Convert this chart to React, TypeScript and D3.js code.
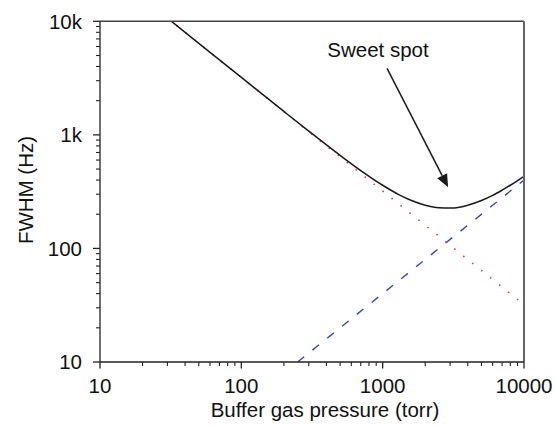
import React from "react";
import * as d3 from "d3";

// ---- data ----
const xDomain = [10, 10000];
const yDomain = [10, 10000];
const xTickValues = [10, 100, 1000, 10000];
const xTickLabels = ["10", "100", "1000", "10000"];
const yTickValues = [10, 100, 1000, 10000];
const yTickLabels = ["10", "100", "1k", "10k"];

// total linewidth (black solid)
const totalX = [30, 50, 100, 200, 300, 500, 700, 1000, 1300, 1600, 2000, 2500, 3000, 3500, 4000, 5000, 6000, 7000, 8000, 9000, 10000];
const totalY = [10668, 6402, 3204, 1608, 1079, 660, 485, 360, 298, 264, 240, 228, 227, 231, 240, 264, 293, 326, 360, 396, 432];

// pressure-broadening-free (diffusion) part: red dotted
const diffX = [30, 10000];
const diffY = [10667, 32];

// pressure broadening: blue dashed
const pressX = [250, 10000];
const pressY = [10, 400];

// annotation
const annoText = "Sweet spot";
const annoTextAt = [927, 4810];
const arrowFrom = [1074, 3855];
const arrowTo = [2904, 346];

const xTitle = "Buffer gas pressure (torr)";
const yTitle = "FWHM (Hz)";

const W = 555;
const H = 427;
const left = 100;
const right = 524;
const top = 21.3;
const bottom = 362;

export default function App() {
  const x = d3.scaleLog().domain(xDomain).range([left, right]);
  const y = d3.scaleLog().domain(yDomain).range([bottom, top]);

  const xMinor = x.ticks().filter((v) => !xTickValues.includes(v));
  const yMinor = y.ticks().filter((v) => !yTickValues.includes(v));

  const line = d3
    .line<[number, number]>()
    .x((d) => x(d[0]))
    .y((d) => y(d[1]));
  const smooth = d3
    .line<[number, number]>()
    .x((d) => x(d[0]))
    .y((d) => y(d[1]))
    .curve(d3.curveMonotoneX);

  const zip = (a: number[], b: number[]) => a.map((v, i) => [v, b[i]] as [number, number]);

  // arrow geometry
  const ax0 = x(arrowFrom[0]);
  const ay0 = y(arrowFrom[1]);
  const ax1 = x(arrowTo[0]);
  const ay1 = y(arrowTo[1]);
  const len = Math.hypot(ax1 - ax0, ay1 - ay0);
  const ux = (ax1 - ax0) / len;
  const uy = (ay1 - ay0) / len;
  const headL = 13;
  const headW = 5.5;
  const bx = ax1 - ux * headL;
  const by = ay1 - uy * headL;
  const head = `${ax1},${ay1} ${bx - uy * headW},${by + ux * headW} ${bx + uy * headW},${by - ux * headW}`;

  const font = "'Liberation Sans', Arial, Helvetica, sans-serif";

  return (
    <svg
      width={W}
      height={H}
      style={{ position: "absolute", left: 0, top: 0, background: "#fff" }}
      fontFamily={font}
    >
      <defs>
        <clipPath id="plot">
          <rect x={left} y={top} width={right - left} height={bottom - top} />
        </clipPath>
      </defs>

      <g clipPath="url(#plot)">
        <path d={line(zip(pressX, pressY)) || ""} fill="none" stroke="#3a46a8" strokeWidth={1.4} strokeDasharray="8.5,10.5" />
        <path d={line(zip(diffX, diffY)) || ""} fill="none" stroke="#e5372c" strokeWidth={1.6} strokeDasharray="1.5,10" />
        <path d={smooth(zip(totalX, totalY)) || ""} fill="none" stroke="#1a1a1a" strokeWidth={1.5} />
      </g>

      {/* frame top and right */}
      <line x1={left} x2={right} y1={top} y2={top} stroke="#444" strokeWidth={1.5} />
      <line x1={right} x2={right} y1={top} y2={bottom} stroke="#666" strokeWidth={2} />

      {/* left axis */}
      <line x1={left} x2={left} y1={top} y2={bottom} stroke="#222" strokeWidth={1.3} />
      {yTickValues.map((v) => (
        <line key={"ym" + v} x1={left - 7} x2={left} y1={y(v)} y2={y(v)} stroke="#222" strokeWidth={1.3} />
      ))}
      {yMinor.map((v) => (
        <line key={"yn" + v} x1={left - 4} x2={left} y1={y(v)} y2={y(v)} stroke="#222" strokeWidth={1.1} />
      ))}
      {yTickValues.map((v, i) => (
        <text key={"yl" + v} x={82} y={y(v)} dy="0.36em" textAnchor="end" fontSize={20.5} fill="#111">
          {yTickLabels[i]}
        </text>
      ))}

      {/* bottom axis */}
      <line x1={left} x2={right} y1={bottom} y2={bottom} stroke="#222" strokeWidth={1.3} />
      {xTickValues.map((v) => (
        <line key={"xm" + v} x1={x(v)} x2={x(v)} y1={bottom} y2={bottom + 6.5} stroke="#222" strokeWidth={1.3} />
      ))}
      {xMinor.map((v) => (
        <line key={"xn" + v} x1={x(v)} x2={x(v)} y1={bottom} y2={bottom + 4} stroke="#222" strokeWidth={1.1} />
      ))}
      {xTickValues.map((v, i) => (
        <text key={"xl" + v} x={x(v)} y={393} textAnchor="middle" fontSize={20.5} fill="#111">
          {xTickLabels[i]}
        </text>
      ))}

      {/* titles */}
      <text x={325} y={417} textAnchor="middle" fontSize={20.5} fill="#111">
        {xTitle}
      </text>
      <text transform={`translate(33,190) rotate(-90)`} textAnchor="middle" fontSize={20.5} fill="#111">
        {yTitle}
      </text>

      {/* annotation */}
      <text x={x(annoTextAt[0])} y={y(annoTextAt[1])} textAnchor="middle" fontSize={20.5} fill="#111">
        {annoText}
      </text>
      <line x1={ax0} y1={ay0} x2={bx} y2={by} stroke="#1a1a1a" strokeWidth={1.5} />
      <polygon points={head} fill="#1a1a1a" />
    </svg>
  );
}
